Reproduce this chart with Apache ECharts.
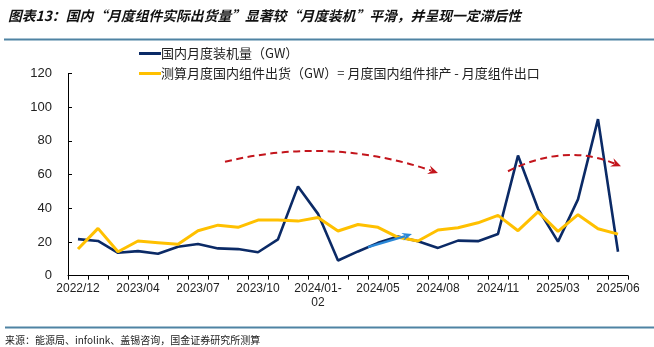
<!DOCTYPE html>
<html>
<head>
<meta charset="utf-8">
<script src="https://cdn.jsdelivr.net/npm/echarts@6/dist/echarts.min.js"></script>
<style>
  html, body { margin: 0; padding: 0; background: #ffffff; }
  #chart { width: 654px; height: 347px; }
</style>
</head>
<body>
<div id="chart"></div>
<script>
// Monthly periods (Jan–Feb are reported together)
const categories = [
  '2022/12', '2023/01-02', '2023/03', '2023/04', '2023/05', '2023/06', '2023/07',
  '2023/08', '2023/09', '2023/10', '2023/11', '2023/12', '2024/01-02', '2024/03',
  '2024/04', '2024/05', '2024/06', '2024/07', '2024/08', '2024/09', '2024/10',
  '2024/11', '2024/12', '2025/01-02', '2025/03', '2025/04', '2025/05', '2025/06'
];

// 国内月度装机量（GW）
const installed = [
  21.7, 20.6, 13.6, 14.6, 13.0, 17.2, 18.8, 16.2, 15.8, 13.9, 21.6, 53.0, 36.7, 9.0,
  14.4, 19.5, 23.2, 20.5, 16.5, 20.8, 20.5, 24.8, 71.3, 39.7, 20.2, 45.3, 92.9, 14.2
];

// 测算月度国内组件出货（GW）
const shipment = [
  15.8, 28.1, 14.2, 20.6, 19.6, 18.6, 26.7, 30.0, 28.7, 33.0, 33.0, 32.4, 34.5, 26.5,
  30.4, 28.7, 22.8, 20.6, 27.1, 28.5, 31.4, 35.8, 26.7, 37.9, 26.3, 36.2, 27.9, 24.7
];

const yTicks = { min: 0, max: 120, interval: 20 };

const seriesNames = [
  '国内月度装机量（GW）',
  '测算月度国内组件出货（GW）= 月度国内组件排产 - 月度组件出口'
];
const seriesColors = ['#0b2a66', '#ffc000'];

// Trend arrows in data space: [category index, value] for start, midpoint, end
const trendArrows = [
  { start: [7.35, 67.6], mid: [12.65, 73.5], end: [18.0, 61.0], color: '#c3151c', dashed: true },
  { start: [21.5, 62.0], mid: [24.33, 71.1], end: [27.15, 65.0], color: '#c3151c', dashed: true },
  { start: [14.5, 17.0], mid: null, end: [16.7, 24.7], color: '#2a88d8', dashed: false }
];

const chart = echarts.init(document.getElementById('chart'), null, { renderer: 'canvas' });

const axisText = { color: '#222', fontFamily: 'Liberation Sans, Arial, sans-serif' };
const lineIcon = 'path://M0,0 L22,0 L22,3 L0,3 Z';

chart.setOption({
  animation: false,
  backgroundColor: '#ffffff',
  grid: { left: 68, right: 26, top: 73.5, bottom: 71.3, containLabel: false },
  legend: {
    orient: 'vertical',
    left: 134,
    top: 40,
    itemWidth: 22,
    itemHeight: 3,
    itemGap: 3,
    textStyle: {
      color: '#222', fontSize: 13, lineHeight: 17,
      fontFamily: 'Noto Sans CJK SC, sans-serif', padding: [0, 0, 0, -5]
    },
    data: seriesNames.map((n, i) => ({ name: n, icon: lineIcon, itemStyle: { color: seriesColors[i] } }))
  },
  xAxis: {
    type: 'category',
    data: categories,
    boundaryGap: true,
    axisLine: { lineStyle: { color: '#000', width: 1 } },
    axisTick: { show: true, inside: false, length: 4, interval: 0, lineStyle: { color: '#000' } },
    axisLabel: {
      interval: 2,
      fontSize: 12,
      margin: 6,
      lineHeight: 14,
      ...axisText,
      formatter: (v) => v.replace('-', '-\n')
    }
  },
  yAxis: {
    type: 'value',
    min: yTicks.min,
    max: yTicks.max,
    interval: yTicks.interval,
    splitLine: { show: false },
    axisLine: { show: true, lineStyle: { color: '#000', width: 1 } },
    axisTick: { show: true, inside: true, length: 4, lineStyle: { color: '#000' } },
    axisLabel: { fontSize: 13, margin: 16, ...axisText }
  },
  series: [
    {
      name: seriesNames[0],
      type: 'line',
      data: installed,
      symbol: 'none',
      lineStyle: { color: seriesColors[0], width: 2.6 },
      itemStyle: { color: seriesColors[0] }
    },
    {
      name: seriesNames[1],
      type: 'line',
      data: shipment,
      symbol: 'none',
      lineStyle: { color: seriesColors[1], width: 3 },
      itemStyle: { color: seriesColors[1] }
    }
  ]
});

// Convert a [category index, value] pair to pixels (fractional indexes allowed)
function toPx(p) {
  const a = chart.convertToPixel({ gridIndex: 0 }, [0, p[1]]);
  const b = chart.convertToPixel({ gridIndex: 0 }, [1, p[1]]);
  return [a[0] + (b[0] - a[0]) * p[0], a[1]];
}

function arrowHead(tip, from, color, len, half) {
  const dx = tip[0] - from[0], dy = tip[1] - from[1];
  const d = Math.hypot(dx, dy) || 1;
  const ux = dx / d, uy = dy / d;
  const bx = tip[0] - ux * len, by = tip[1] - uy * len;
  return {
    type: 'polygon',
    z: 100,
    shape: { points: [tip, [bx - uy * half, by + ux * half], [tip[0] - ux * len * 0.65, tip[1] - uy * len * 0.65], [bx + uy * half, by - ux * half]] },
    style: { fill: color }
  };
}

const W = 654;
const graphics = [
  // Heading
  {
    type: 'text', left: 8, top: 9, z: 100,
    style: {
      text: '图表13：国内“月度组件实际出货量”显著较“月度装机”平滑，并呈现一定滞后性',
      fill: '#111', fontSize: 13.8, fontWeight: 'bold', fontStyle: 'italic',
      fontFamily: 'Noto Sans CJK SC, sans-serif'
    }
  },
  { type: 'line', z: 100, shape: { x1: 4, y1: 39.5, x2: W, y2: 39.5 }, style: { stroke: '#4f83a3', lineWidth: 2 } },
  { type: 'line', z: 100, shape: { x1: 5, y1: 327.5, x2: W, y2: 327.5 }, style: { stroke: '#4f83a3', lineWidth: 2 } },
  // Source note
  {
    type: 'text', left: 5, top: 335, z: 100,
    style: {
      text: '来源：能源局、infolink、盖锡咨询，国金证券研究所测算',
      fill: '#222', fontSize: 10,
      fontFamily: 'Noto Sans CJK SC, DejaVu Sans Mono, monospace'
    }
  }
];

trendArrows.forEach((a) => {
  const p0 = toPx(a.start);
  const p2 = toPx(a.end);
  const headLen = 10;
  const headHalf = a.dashed ? 4.5 : 4;
  if (a.mid) {
    const m = toPx(a.mid);
    const c = [2 * m[0] - (p0[0] + p2[0]) / 2, 2 * m[1] - (p0[1] + p2[1]) / 2];
    const dx = p2[0] - c[0], dy = p2[1] - c[1];
    const d = Math.hypot(dx, dy);
    const lineEnd = [p2[0] - dx / d * headLen * 0.7, p2[1] - dy / d * headLen * 0.7];
    graphics.push({
      type: 'bezierCurve', z: 90,
      shape: { x1: p0[0], y1: p0[1], x2: lineEnd[0], y2: lineEnd[1], cpx1: c[0], cpy1: c[1] },
      style: { stroke: a.color, lineWidth: 2, fill: null, lineDash: [7, 4.5] }
    });
    graphics.push(arrowHead(p2, c, a.color, headLen, headHalf));
  } else {
    const dx = p2[0] - p0[0], dy = p2[1] - p0[1];
    const d = Math.hypot(dx, dy);
    const lineEnd = [p2[0] - dx / d * headLen * 0.7, p2[1] - dy / d * headLen * 0.7];
    graphics.push({
      type: 'line', z: 90,
      shape: { x1: p0[0], y1: p0[1], x2: lineEnd[0], y2: lineEnd[1] },
      style: { stroke: a.color, lineWidth: 2.4 }
    });
    graphics.push(arrowHead(p2, p0, a.color, headLen, headHalf));
  }
});

chart.setOption({ graphic: graphics });
</script>
</body>
</html>
